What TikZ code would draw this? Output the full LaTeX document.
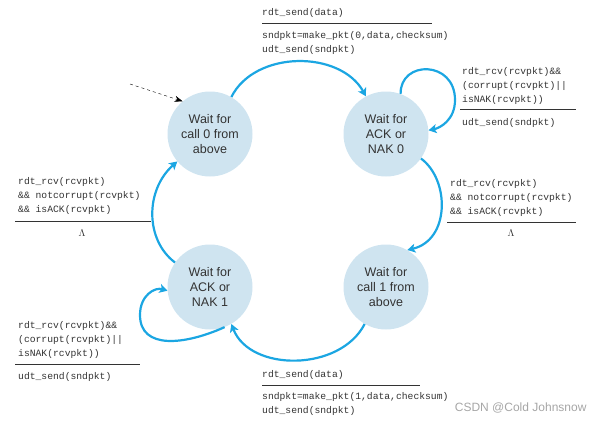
\documentclass[tikz,border=0pt]{standalone}
\usepackage{fontspec}
\setmainfont{Liberation Sans}
\newfontfamily\codef{Liberation Mono}
\usetikzlibrary{arrows.meta}
\definecolor{st}{HTML}{CFE4F0}
\definecolor{ar}{HTML}{1BA6E2}
\definecolor{tx}{HTML}{333333}
\begin{document}
\begin{tikzpicture}[x=1pt,y=-1pt,
  state/.style={circle,fill=st,minimum size=85pt,inner sep=0pt,align=center,text=tx,font=\fontsize{12.5}{15}\selectfont},
  code/.style={anchor=north west,inner sep=0pt,align=left,text=tx,font=\codef\fontsize{9.7}{14}\selectfont},
  tr/.style={draw=ar,line width=2.2pt,-{Stealth[length=8pt,width=9pt,inset=2pt]}},
  rule/.style={draw,line width=0.5pt,tx}]
\useasboundingbox (0,0) rectangle (602,426);
\node[state] (s0) at (210,134) {Wait for\\call 0 from\\above};
\node[state] (s1) at (386,134) {Wait for\\ACK or\\NAK 0};
\node[state] (s2) at (386,287) {Wait for\\call 1 from\\above};
\node[state] (s3) at (210,287) {Wait for\\ACK or\\NAK 1};
\coordinate (st) at (130,84);
\draw[dashed,-{Stealth[length=8pt]}] (st) -- (s0.130);
\draw[tr] (s0.60) .. controls (255,50) and (340,50) .. (s1.118);
\draw[tr] (s1.-35) .. controls (450,180) and (450,240) .. (s2.60);
\draw[tr] (s2.-120) .. controls (340,372) and (250,372) .. (s3.-60);
\draw[tr] (s3.145) .. controls (145,240) and (145,190) .. (s0.-140);
\draw[tr] (s1.70) .. controls (400,60) and (455,60) .. (455,100) .. controls (455,120) and (440,128) .. (s1.5);
\draw[tr] (s3.-70) .. controls (185,345) and (140,350) .. (140,315) .. controls (140,295) and (155,287) .. (s3.185);
\node[code] (t1) at (262,8) {rdt\_send(data)};
\draw[rule] (262,23) -- (432,23);
\node[code] (t2) at (262,31) {sndpkt=make\_pkt(0,data,checksum)\\udt\_send(sndpkt)};
\node[code] (r1) at (462,67) {rdt\_rcv(rcvpkt)\&\&\\(corrupt(rcvpkt)||\\isNAK(rcvpkt))};
\draw[rule] (460,109) -- (576,109);
\node[code] (r2) at (462,118) {udt\_send(sndpkt)};
\node[code] (m1) at (450,179) {rdt\_rcv(rcvpkt)\\\&\& notcorrupt(rcvpkt)\\\&\& isACK(rcvpkt)};
\draw[rule] (447,222) -- (576,222);
\node[text=tx] (m2) at (511,233) {$\Lambda$};
\node[code] (l1) at (18,177) {rdt\_rcv(rcvpkt)\\\&\& notcorrupt(rcvpkt)\\\&\& isACK(rcvpkt)};
\draw[rule] (15,221) -- (151,221);
\node[text=tx] (l2) at (82,233) {$\Lambda$};
\node[code] (b1) at (18,321) {rdt\_rcv(rcvpkt)\&\&\\(corrupt(rcvpkt)||\\isNAK(rcvpkt))};
\draw[rule] (15,364) -- (140,364);
\node[code] (b2) at (18,372) {udt\_send(sndpkt)};
\node[code] (d1) at (262,370) {rdt\_send(data)};
\draw[rule] (262,385) -- (420,385);
\node[code] (d2) at (262,392) {sndpkt=make\_pkt(1,data,checksum)\\udt\_send(sndpkt)};
\node[anchor=east,text=gray!70,font=\fontsize{12}{14}\selectfont] (wm) at (590,408) {CSDN @Cold Johnsnow};
\end{tikzpicture}
\end{document}
